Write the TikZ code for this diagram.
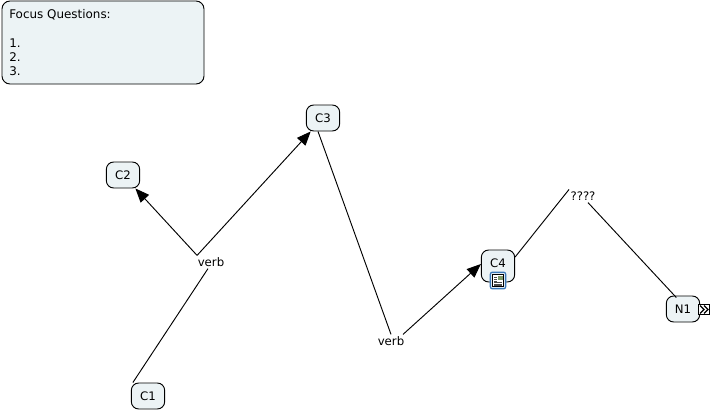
\documentclass[tikz,border=0pt]{standalone}
\usepackage{fontspec}
\setmainfont{DejaVu Sans}
\usetikzlibrary{arrows.meta}
\definecolor{conceptfill}{HTML}{ECF3F5}
\definecolor{iconblue}{HTML}{3A78B8}
\definecolor{iconfill}{HTML}{DCE8F4}
\definecolor{pagegreen}{HTML}{7F9A6A}
\begin{document}
\begin{tikzpicture}[
    x=0.75pt, y=-0.75pt,
    concept/.style={rectangle, draw, fill=conceptfill, rounded corners=5.5pt, line width=0.7pt, minimum width=25pt, minimum height=19.5pt, inner sep=0pt, font=\fontsize{8.8}{10}\selectfont},
    linkword/.style={rectangle, inner sep=0pt, minimum width=20.5pt, minimum height=9.5pt, font=\fontsize{8.8}{10}\selectfont},
    focusbox/.style={rectangle, draw, fill=conceptfill, rounded corners=6pt, line width=0.7pt, minimum width=151.5pt, minimum height=62.25pt, inner sep=0pt},
    arrow/.style={-{Triangle[length=10.5pt,width=8.5pt]}, line width=0.7pt},
    plainline/.style={line width=0.7pt}
]
\useasboundingbox (0,0) rectangle (712,410);

% Question box
\node[focusbox] (focus) at (103,42.5) {};
\node[anchor=north west, inner sep=0pt, align=left, font=\fontsize{8.95}{10.5}\selectfont] (focustext) at (9,9) {Focus Questions:\\[11.25pt]1.\\2.\\3.};

% Concepts
\node[concept] (c1) at (148,396) {C1};
\node[concept] (c2) at (123,175) {C2};
\node[concept] (c3) at (323,118) {C3};
\node[concept, minimum height=24pt, text depth=4pt] (c4) at (498,266) {C4};
\node[concept] (n1) at (683,309) {N1};

% Linking words
\node[linkword] (verb1) at (211,262) {verb};
\node[linkword] (verb2) at (391,341) {verb};
\node[linkword] (ask) at (583,196) {????};

% Icon under C4
\node[draw=iconblue, fill=iconfill, rounded corners=1.5pt, line width=0.9pt, minimum width=11.5pt, minimum height=12.5pt, inner sep=0pt] (noteicon) at (498,280.5) {};
\node[draw=black, fill=white, line width=0.5pt, minimum width=8pt, minimum height=9pt, inner sep=0pt] (notepage) at (498,280.5) {};
\fill[pagegreen] (498,275.5) rectangle (502.5,280);
\foreach \y in {277,279,281} \draw[line width=0.25pt, black!70] (494,\y) -- (497,\y);
\foreach \y in {282.5,284,285.5} \draw[line width=0.25pt, black!70] (494,\y) -- (502,\y);

% Marker beside N1
\node[draw, fill=white, line width=0.7pt, minimum width=8.5pt, minimum height=8pt, inner sep=0pt] (n1mark) at (704,309.5) {};
\foreach \x in {0,4} \draw[line width=1pt] (700+\x,305.5) -- (704+\x,309.5) -- (700+\x,313.5);

% Connectors
\draw[plainline] ([xshift=1.5pt]c1.north west) -- ([xshift=-2.25pt]verb1.south);
\draw[arrow] (verb1.north west) -- (c2);
\draw[arrow] (verb1.north west) -- (c3);
\draw[plainline] ([xshift=-3.75pt]c3.south) -- (verb2.north);
\draw[arrow] ([xshift=9pt]verb2.north) -- ([yshift=1.5pt]c4.west);
\draw[plainline] ([yshift=6.75pt]c4.east) -- (ask.north west);
\draw[plainline] ([xshift=3.75pt]ask.south) -- ([xshift=-5pt,yshift=-1.5pt]n1.north);
\end{tikzpicture}
\end{document}
